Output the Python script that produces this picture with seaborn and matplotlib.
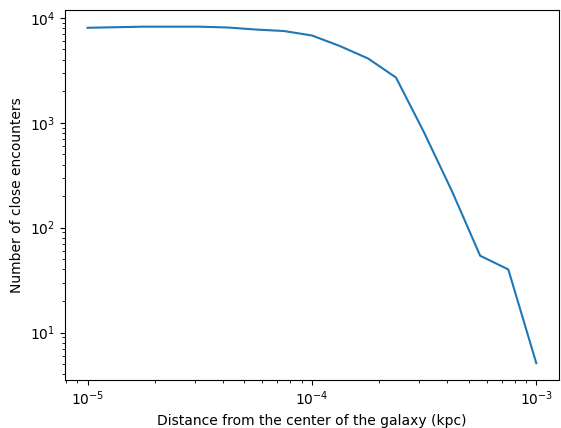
import matplotlib
matplotlib.use("Agg")
from matplotlib import pyplot as plt
import seaborn as sns
import pandas as pd

# distance from galactic centre (kpc) and number of close encounters
distance = [1.00e-5, 1.33e-5, 1.78e-5, 2.37e-5, 3.16e-5, 4.22e-5, 5.62e-5, 7.50e-5,
            1.00e-4, 1.33e-4, 1.78e-4, 2.37e-4, 3.16e-4, 4.22e-4, 5.62e-4, 7.50e-4,
            1.00e-3]
encounters = [8050, 8150, 8250, 8250, 8250, 8100, 7750, 7500,
              6800, 5400, 4100, 2700, 810, 220, 54, 40,
              5.1]

df = pd.DataFrame({"distance": distance, "encounters": encounters})

fig, ax = plt.subplots(figsize=(5.61, 4.28), dpi=100)
fig.subplots_adjust(left=0.116, right=0.996, top=0.977, bottom=0.112)

sns.lineplot(data=df, x="distance", y="encounters", ax=ax, color="#1f77b4")
ax.set_xscale("log")
ax.set_yscale("log")
ax.set_xlabel("Distance from the center of the galaxy (kpc)")
ax.set_ylabel("Number of close encounters")

fig.savefig("out.png", dpi=100)
